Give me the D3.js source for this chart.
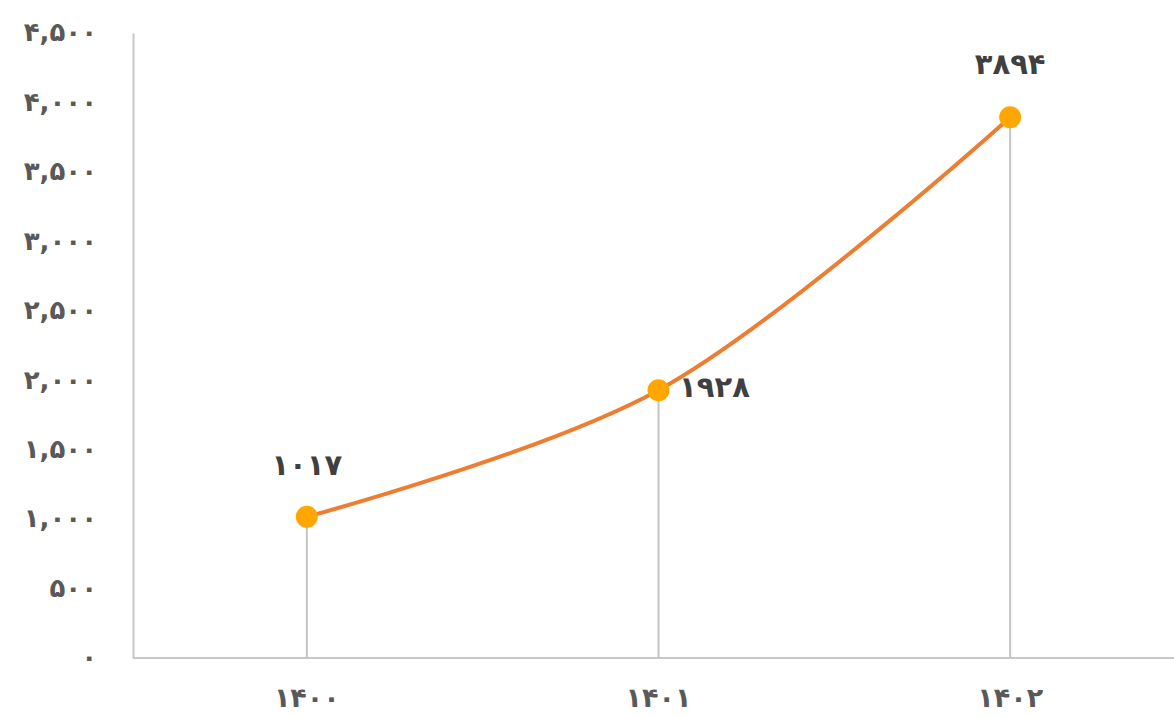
<!DOCTYPE html>
<html><head><meta charset="utf-8">
<script src="https://cdn.jsdelivr.net/npm/d3@7"></script>
<style>body{margin:0;background:#fff}svg{display:block}</style>
</head><body>
<svg id="c" width="1174" height="718"></svg>
<script>
const categories = ["۱۴۰۰", "۱۴۰۱", "۱۴۰۲"];
const values = [1017, 1928, 3894];
const valueLabels = ["۱۰۱۷", "۱۹۲۸", "۳۸۹۴"];
const yTicks = [0, 500, 1000, 1500, 2000, 2500, 3000, 3500, 4000, 4500];
const yTickLabels = ["۰", "۵۰۰", "۱,۰۰۰", "۱,۵۰۰", "۲,۰۰۰", "۲,۵۰۰", "۳,۰۰۰", "۳,۵۰۰", "۴,۰۰۰", "۴,۵۰۰"];

const svg = d3.select("#c");
const font = "'DejaVu Sans', sans-serif";
const axX = 133, yBase = 658, yTop = 33;
const x = d3.scaleBand().domain(categories).range([131, 1186]);
const y = d3.scaleLinear().domain([0, 4500]).range([yBase, yTop]);
const cx = d => x(d) + x.bandwidth() / 2;

// y axis
const yAxis = svg.append("g").attr("transform", `translate(${axX},0)`)
  .call(d3.axisLeft(y).tickValues(yTicks).tickSize(0).tickPadding(36)
    .tickFormat((d, i) => yTickLabels[i]));
yAxis.select(".domain").attr("stroke", "#c8c8c8").attr("stroke-width", 2);
yAxis.selectAll("text").attr("font-family", font).attr("font-weight", "bold")
  .attr("font-size", 26).attr("fill", "#595959").attr("dy", "0.3em");

// x axis
const xAxis = svg.append("g").attr("transform", `translate(0,${yBase})`)
  .call(d3.axisBottom(x).tickSize(0).tickPadding(30));
xAxis.select(".domain").attr("stroke", "#c8c8c8").attr("stroke-width", 2)
  .attr("d", `M${axX},0H1174`);
xAxis.selectAll("text").attr("font-family", font).attr("font-weight", "bold")
  .attr("font-size", 27).attr("fill", "#595959");

// drop lines
svg.append("g").selectAll("line").data(categories).join("line")
  .attr("x1", d => cx(d)).attr("x2", d => cx(d))
  .attr("y1", (d, i) => y(values[i])).attr("y2", yBase)
  .attr("stroke", "#c4c4c4").attr("stroke-width", 2);

// line
const line = d3.line().x((d, i) => cx(categories[i])).y(d => y(d))
  .curve(d3.curveCatmullRom.alpha(0.5));
svg.append("path").datum(values).attr("d", line)
  .attr("fill", "none").attr("stroke", "#ED7D31").attr("stroke-width", 4)
  .attr("stroke-linecap", "round");

// markers
svg.append("g").selectAll("circle").data(values).join("circle")
  .attr("cx", (d, i) => cx(categories[i])).attr("cy", d => y(d)).attr("r", 11)
  .attr("fill", "#FFA600");

// data labels
const offs = [[0, -50], [56, -2], [0, -52]];
svg.append("g").selectAll("text").data(values).join("text")
  .attr("x", (d, i) => cx(categories[i]) + offs[i][0])
  .attr("y", (d, i) => y(d) + offs[i][1])
  .attr("text-anchor", "middle").attr("dy", "0.3em")
  .attr("font-family", font).attr("font-weight", "bold").attr("font-size", 29)
  .attr("fill", "#404040")
  .text((d, i) => valueLabels[i]);
</script>
</body></html>
